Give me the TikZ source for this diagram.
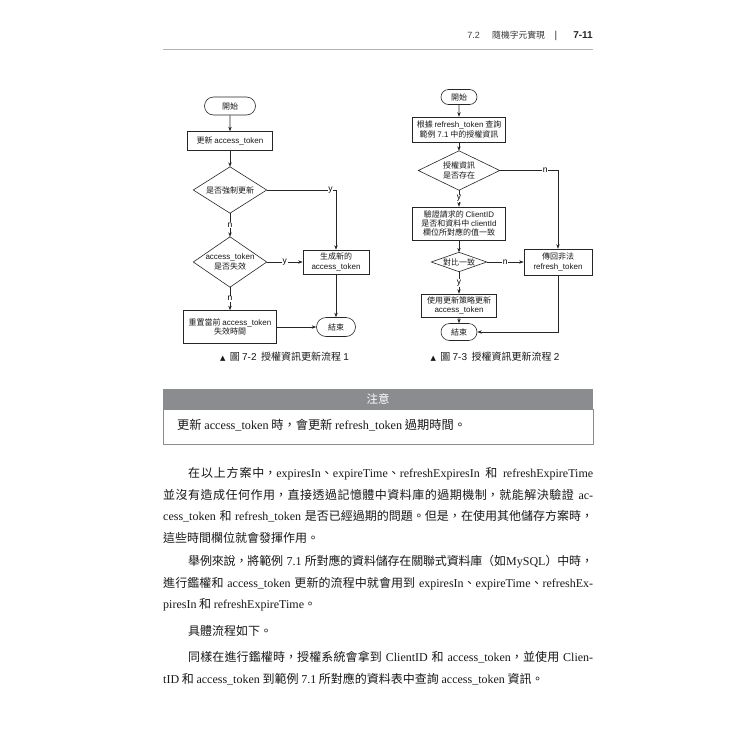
\documentclass[tikz,border=0pt]{standalone}
\usepackage{fontspec}
\setmainfont{Noto Sans CJK TC}
\newfontfamily\latfont{Liberation Serif}
\newfontfamily\sansfontx{Liberation Sans}
\newfontfamily\symfontx{DejaVu Sans}
\usetikzlibrary{arrows.meta,shapes.misc}
\newcommand\EN[1]{{\latfont #1}}
\newcommand\SA[1]{{\sansfontx #1}}
\newcommand\jl[2]{\parbox[b]{#1}{\XeTeXlinebreaklocale "zh"\XeTeXlinebreakskip=0pt plus 3pt minus 0.5pt\relax\XeTeXlinebreakpenalty=10000\relax\spaceskip=0.3em plus 0.6em minus 0.05em\relax\parfillskip=0pt\relax\noindent #2}}
\definecolor{notegray}{HTML}{8A8C8F}
\begin{document}
\begin{tikzpicture}[x=1pt,y=-1pt,
  box/.style={draw=black!85, line width=0.6pt, rectangle, align=center, inner sep=1pt, font=\fontsize{8}{9.4}\selectfont, text=black!90},
  pill/.style={draw=black!85, line width=0.6pt, rounded rectangle, inner sep=1pt, font=\fontsize{8}{9.4}\selectfont, text=black!90},
  dia/.style={rectangle, align=center, inner sep=0pt, font=\fontsize{8}{9.4}\selectfont, text=black!90},
  ln/.style={draw=black!85, line width=0.6pt},
  arr/.style={ln, -{Stealth[length=4.5pt,width=3.4pt]}},
  lbl/.style={fill=white, inner sep=0.8pt, font=\fontsize{8.5}{9}\selectfont\sansfontx},
  body/.style={anchor=base west, inner sep=0pt, font=\fontsize{12}{14}\selectfont, text=black!90},
  captxt/.style={inner sep=0pt, font=\fontsize{10}{12}\selectfont, text=black!90},
]
\useasboundingbox (0,0) rectangle (750,750);
\fill[white] (0,0) rectangle (750,750);

% header
\draw[black!30, line width=0.8pt] (163,49) -- (593,49);
\node[anchor=base east, inner sep=0, font=\fontsize{9}{10}\selectfont\sansfontx, text=black!75] (h1) at (480,38) {7.2};
\node[anchor=base west, inner sep=0, font=\fontsize{8.8}{10}\selectfont, text=black!80] (h2) at (492,38) {隨機字元實現};
\node[anchor=base, inner sep=0, font=\fontsize{10}{10}\selectfont\sansfontx, text=black!80] (h3) at (556,38) {|};
\node[anchor=base east, inner sep=0, font=\fontsize{10}{10}\selectfont\sansfontx\bfseries, text=black!85] (h4) at (593,38) {7-11};

% ---------- left flowchart ----------
\node[pill, minimum width=53pt, minimum height=18pt] (s1) at (230,106) {開始};
\node[box, minimum width=85pt, minimum height=19pt] (upd) at (230,141) {更新 \SA{access\_token}};
\node[dia, minimum width=73pt, minimum height=46pt] (d1) at (230,190) {是否強制更新};
\node[dia, minimum width=73pt, minimum height=50pt] (d2) at (230,262) {\SA{access\_token}\\是否失效};
\node[box, minimum width=66pt, minimum height=24pt] (gen) at (336,262) {生成新的\\\SA{access\_token}};
\node[box, minimum width=93pt, minimum height=33pt] (rst) at (230,327) {重置當前 \SA{access\_token}\\失效時間};
\node[pill, minimum width=41pt, minimum height=19pt] (e1) at (336,327) {結束};
\draw[ln] (d1.north) -- (d1.east) -- (d1.south) -- (d1.west) -- cycle;
\draw[ln] (d2.north) -- (d2.east) -- (d2.south) -- (d2.west) -- cycle;
\draw[arr] (s1) -- (upd);
\draw[arr] (upd) -- (d1.north);
\draw[arr] (d1.south) -- node[lbl]{n} (d2.north);
\draw[arr] (d2.south) -- node[lbl]{n} (rst);
\draw[arr] (d1.east) -| node[lbl, pos=0.46]{y} (gen.north);
\draw[arr] (d2.east) -- node[lbl]{y} (gen.west);
\draw[arr] (gen) -- (e1);
\draw[arr] (rst) -- (e1);
\node[captxt] (cap1) at (284.5,357) {{\symfontx\fontsize{7}{7}\selectfont ▲}\ \ 圖 \SA{7-2}\ \ 授權資訊更新流程 \SA{1}};

% ---------- right flowchart ----------
\node[pill, minimum width=38pt, minimum height=15pt] (s2) at (459,97) {開始};
\node[box, minimum width=93pt, minimum height=25pt] (q) at (459,129.5) {根據 \SA{refresh\_token} 查詢\\範例 \SA{7.1} 中的授權資訊};
\node[dia, minimum width=81pt, minimum height=39pt] (d3) at (459,170.5) {授權資訊\\是否存在};
\node[box, minimum width=93pt, minimum height=33pt] (v) at (459,223.5) {驗證請求的 \SA{ClientID}\\是否和資料中 \SA{clientId}\\欄位所對應的值一致};
\node[dia, minimum width=55pt, minimum height=19pt] (d4) at (459,262) {對比一致};
\node[box, minimum width=68pt, minimum height=26pt] (ret) at (558,262) {傳回非法\\\SA{refresh\_token}};
\node[box, minimum width=75pt, minimum height=23pt] (use) at (459,305.5) {使用更新策略更新\\\SA{access\_token}};
\node[pill, minimum width=38pt, minimum height=17pt] (e2) at (459,332) {結束};
\draw[ln] (d3.north) -- (d3.east) -- (d3.south) -- (d3.west) -- cycle;
\draw[ln] (d4.north) -- (d4.east) -- (d4.south) -- (d4.west) -- cycle;
\draw[arr] (s2) -- (q);
\draw[arr] (q) -- (d3.north);
\draw[arr] (d3.south) -- node[lbl]{y} (v);
\draw[arr] (v) -- (d4.north);
\draw[arr] (d4.south) -- node[lbl]{y} (use);
\draw[arr] (use) -- (e2);
\draw[arr] (d3.east) -| node[lbl, pos=0.39]{n} (ret.north);
\draw[arr] (d4.east) -- node[lbl]{n} (ret.west);
\draw[arr] (ret.south) |- (e2.east);
\node[captxt] (cap2) at (495,357) {{\symfontx\fontsize{7}{7}\selectfont ▲}\ \ 圖 \SA{7-3}\ \ 授權資訊更新流程 \SA{2}};

% ---------- note box ----------
\node[rectangle, fill=notegray, minimum width=430pt, minimum height=20pt, inner sep=0pt, anchor=north west] (nh) at (163,389) {};
\node[text=white, inner sep=0pt, font=\fontsize{11.5}{12}\selectfont] (nt) at (nh.center) {注意};
\node[rectangle, draw=black!45, line width=0.8pt, minimum width=430pt, minimum height=35pt, inner sep=0pt, anchor=north west] (nb) at (163,409) {};
\node[anchor=base west, inner sep=0pt, font=\fontsize{12.2}{13}\selectfont, text=black!90] (ntext) at (177,429.5) {更新 \EN{access\_token} 時，會更新 \EN{refresh\_token} 過期時間。};

% ---------- body text ----------
\node[body] (p1a) at (188,477.5) {\jl{405pt}{在以上方案中，\EN{expiresIn}、\EN{expireTime}、\EN{refreshExpiresIn} 和 \EN{refreshExpireTime}}};
\node[body] (p1b) at (163,499) {\jl{430pt}{並沒有造成任何作用，直接透過記憶體中資料庫的過期機制，就能解決驗證 \EN{ac-}}};
\node[body] (p1c) at (163,520.5) {\jl{430pt}{\EN{cess\_token} 和 \EN{refresh\_token} 是否已經過期的問題。但是，在使用其他儲存方案時，}};
\node[body] (p1d) at (163,542) {這些時間欄位就會發揮作用。};

\node[body] (p2a) at (188,565.5) {\jl{405pt}{舉例來說，將範例 \EN{7.1} 所對應的資料儲存在關聯式資料庫（如\EN{MySQL}）中時，}};
\node[body] (p2b) at (163,587) {\jl{430pt}{進行鑑權和 \EN{access\_token} 更新的流程中就會用到 \EN{expiresIn}、\EN{expireTime}、\EN{refreshEx-}}};
\node[body] (p2c) at (163,608.5) {\EN{piresIn} 和 \EN{refreshExpireTime}。};

\node[body] (p3a) at (188,635) {具體流程如下。};

\node[body] (p4a) at (188,661.5) {\jl{405pt}{同樣在進行鑑權時，授權系統會拿到 \EN{ClientID} 和 \EN{access\_token}，並使用 \EN{Clien-}}};
\node[body] (p4b) at (163,683) {\EN{tID} 和 \EN{access\_token} 到範例 \EN{7.1} 所對應的資料表中查詢 \EN{access\_token} 資訊。};
\end{tikzpicture}
\end{document}
